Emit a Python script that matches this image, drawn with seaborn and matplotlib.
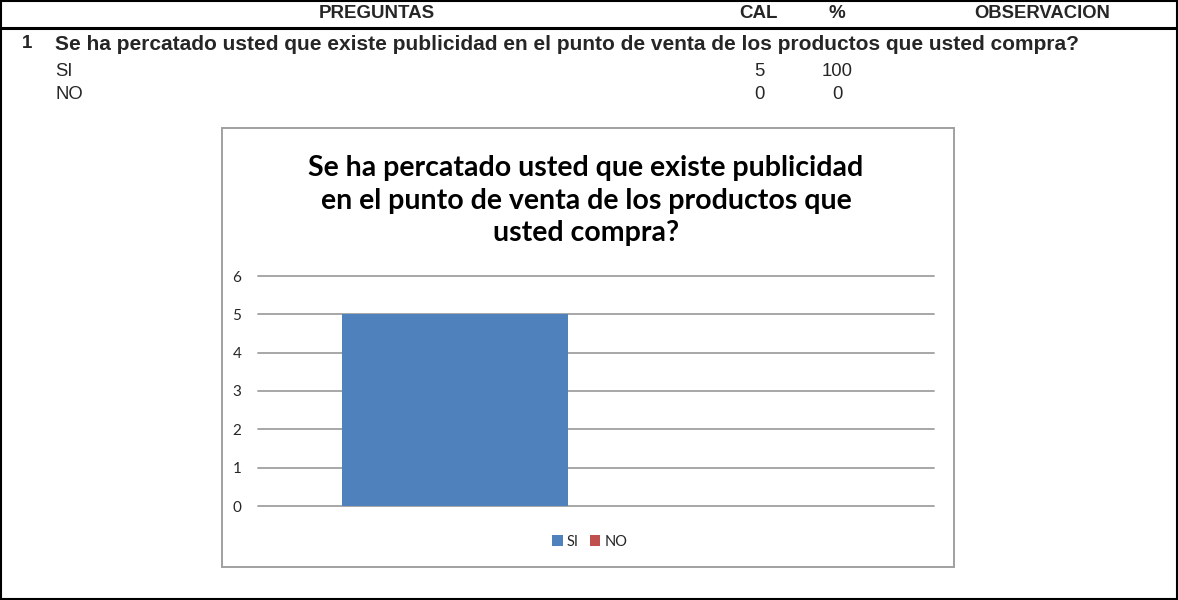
import matplotlib
matplotlib.use("Agg")
import matplotlib.pyplot as plt
from matplotlib.patches import Rectangle
from matplotlib.lines import Line2D
import seaborn as sns
import pandas as pd

# ---- data ----
header_cols = ["PREGUNTAS", "CAL", "%", "OBSERVACION"]
question_num = "1"
question = "Se ha percatado usted que existe publicidad en el punto de venta de los productos que usted compra?"
answers = ["SI", "NO"]
cal_values = [5, 0]
pct_values = [100, 0]
chart_title = "Se ha percatado usted que existe publicidad\nen el punto de venta de los productos que\nusted compra?"
y_ticks = [0, 1, 2, 3, 4, 5, 6]

BLUE = "#4F81BD"
RED = "#C0504D"

sns.set_style("white")
plt.rcParams["font.family"] = ["Liberation Sans", "DejaVu Sans"]

W, H = 1178, 600
fig = plt.figure(figsize=(W / 100, H / 100), dpi=100)
fig.patch.set_facecolor("white")

def fx(px):
    return px / W

def fy(py):
    return 1 - py / H

# outer border and header rule
fig.add_artist(Rectangle((fx(1), fy(598.5)), fx(1176), 597.5 / H, transform=fig.transFigure,
                         fill=False, edgecolor="black", linewidth=1.5))
fig.add_artist(Line2D([0, 1], [fy(27.5), fy(27.5)], transform=fig.transFigure,
                      color="black", linewidth=2.2))

TF = ["Liberation Sans", "DejaVu Sans"]
# header
fig.text(fx(319), fy(14), header_cols[0], ha="left", va="center", fontweight="bold", fontsize=13.5, family=TF)
fig.text(fx(758), fy(14), header_cols[1], ha="center", va="center", fontweight="bold", fontsize=13.5, family=TF)
fig.text(fx(837), fy(14), header_cols[2], ha="center", va="center", fontweight="bold", fontsize=13.5, family=TF)
fig.text(fx(1042), fy(14), header_cols[3], ha="center", va="center", fontweight="bold", fontsize=13.3, family=TF)
# question row
fig.text(fx(22), fy(44), question_num, ha="left", va="center", fontweight="bold", fontsize=13.5, family=TF)
fig.text(fx(55), fy(44), question, ha="left", va="center", fontweight="bold", fontsize=15, family=TF)
for i, (a, c, p) in enumerate(zip(answers, cal_values, pct_values)):
    yy = fy(72 + 22.5 * i)
    fig.text(fx(55), yy, a, ha="left", va="center", fontsize=13.3, family=TF)
    fig.text(fx(759), yy, str(c), ha="center", va="center", fontsize=13.3, family=TF)
    fig.text(fx(837), yy, str(p), ha="center", va="center", fontsize=13.3, family=TF)

# chart box
fig.add_artist(Rectangle((fx(222), fy(567)), fx(954 - 222), (567 - 128) / H, transform=fig.transFigure,
                         fill=False, edgecolor="#A0A0A0", linewidth=1.4))

cfont = ["Lato", "DejaVu Sans"]
fig.text(fx(586), fy(200.5), chart_title, ha="center", va="center", fontsize=20.5,
         fontweight="bold", family=cfont, linespacing=1.33, color="black")

# plot area
ax = fig.add_axes([fx(258), fy(506), fx(934 - 258), (506 - 276) / H])
df = pd.DataFrame({"cat": [""] * len(answers), "serie": answers, "valor": cal_values})
sns.barplot(data=df, x="cat", y="valor", hue="serie", hue_order=answers,
            palette=[BLUE, RED], saturation=1, width=0.8, linewidth=0, ax=ax, legend=True)

ax.set_ylim(0, 6)
ax.set_xlim(-0.5487, 0.6478)
ax.set_yticks(y_ticks)
ax.set_yticklabels([str(t) for t in y_ticks], family=cfont, fontsize=11)
ax.set_xticks([])
ax.set_xlabel("")
ax.set_ylabel("")
ax.tick_params(axis="y", length=0, pad=12)
for s in ax.spines.values():
    s.set_visible(False)
for t in y_ticks:
    ax.axhline(t, color="#A0A0A0", linewidth=1.3, zorder=0.5, clip_on=False)
ax.set_facecolor("none")

handles, labels = ax.get_legend_handles_labels()
ax.legend(handles, labels, loc="center", bbox_to_anchor=(fx(590), fy(541.5)),
          bbox_transform=fig.transFigure, ncol=2, frameon=False,
          handlelength=0.7, handleheight=0.7, handletextpad=0.3, columnspacing=0.75,
          prop={"family": cfont, "size": 10.5})

fig.savefig("out.png", dpi=100)
